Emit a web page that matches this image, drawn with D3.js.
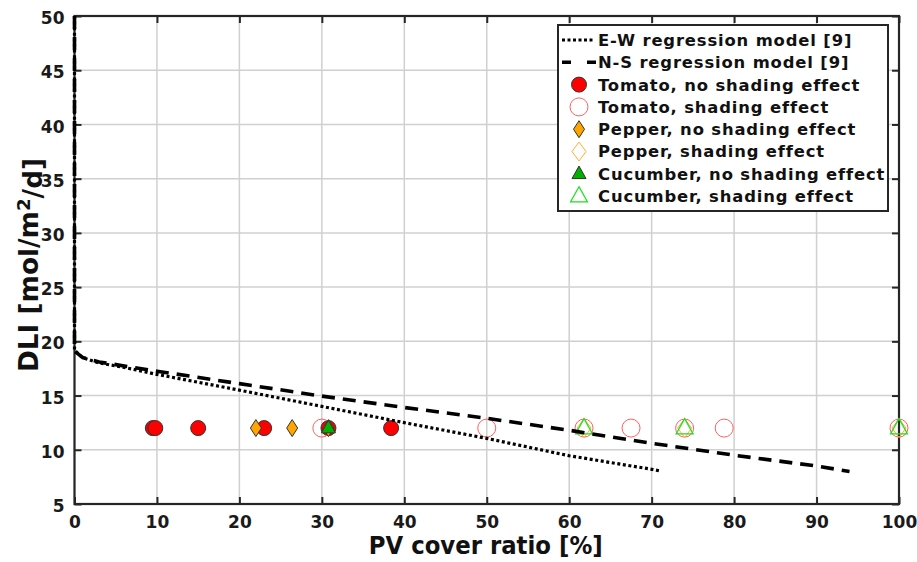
<!DOCTYPE html>
<html><head><meta charset="utf-8">
<script src="https://cdn.jsdelivr.net/npm/d3@7"></script>
<style>body{margin:0;background:#fff;} text{font-family:"DejaVu Sans",Verdana,sans-serif;font-weight:bold;}</style>
</head><body><svg id="c" width="917" height="562"></svg>
<script>
// ---- data ----
const xTicks = [0,10,20,30,40,50,60,70,80,90,100];
const yTicks = [5,10,15,20,25,30,35,40,45,50];
const ewModel = [[0,50],[0,19.2],[0.5,18.8],[1,18.5],[3,18.0],[6,17.6],[10,16.95],[20,15.5],[30,14.0],[40,12.5],[50,11.05],[60,9.45],[70,8.2],[71,8.05]];
const nsModel = [[0,50],[0,19.1],[1,18.5],[3,18.1],[10,17.25],[20,16.1],[30,14.95],[40,13.9],[50,12.9],[60,11.8],[70,10.6],[80,9.5],[90,8.5],[94,8.0]];
const tomatoNo = [[9.5,12],[9.8,12],[15,12],[23,12],[30.8,12],[38.4,12]];
const tomatoSh = [[30,12],[50,12],[61.8,12],[67.5,12],[74,12],[78.8,12],[100,12]];
const pepperNo = [[22,12],[26.4,12],[30.8,12]];
const pepperSh = [[61.8,12],[74,12],[100,12]];
const cucumberNo = [[30.8,12]];
const cucumberSh = [[61.8,12],[74,12],[100,12]];
const legendLabels = ["E-W regression model [9]","N-S regression model [9]","Tomato, no shading effect","Tomato, shading effect","Pepper, no shading effect","Pepper, shading effect","Cucumber, no shading effect","Cucumber, shading effect"];

// ---- chart ----
const svg = d3.select("#c");
const L=74.5, R=899, T=16, B=504;
const x = d3.scaleLinear().domain([0,100]).range([L,R]);
const y = d3.scaleLinear().domain([5,50]).range([B,T]);
const axisCol="#262626";

// grid
const g = svg.append("g");
g.selectAll(".gx").data(xTicks).join("line").attr("x1",d=>x(d)).attr("x2",d=>x(d)).attr("y1",T).attr("y2",B).attr("stroke","#d0d0d0").attr("stroke-width",1.5);
g.selectAll(".gy").data(yTicks).join("line").attr("y1",d=>y(d)).attr("y2",d=>y(d)).attr("x1",L).attr("x2",R).attr("stroke","#d0d0d0").attr("stroke-width",1.5);

// axes with inward ticks
const tl=7;
const ax = svg.append("g");
ax.append("g").attr("transform",`translate(0,${B})`).call(d3.axisBottom(x).tickValues(xTicks).tickSizeInner(-tl).tickSizeOuter(0).tickPadding(12)).call(s=>{s.select(".domain").remove();});
ax.append("g").attr("transform",`translate(0,${T})`).call(d3.axisTop(x).tickValues(xTicks).tickSizeInner(-tl).tickSizeOuter(0).tickFormat("")).call(s=>s.select(".domain").remove());
const yax = ax.append("g").attr("transform",`translate(${L},0)`).call(d3.axisLeft(y).tickValues(yTicks).tickSizeInner(-tl).tickSizeOuter(0).tickPadding(10)).call(s=>s.select(".domain").remove());
ax.append("g").attr("transform",`translate(${R},0)`).call(d3.axisRight(y).tickValues(yTicks).tickSizeInner(-tl).tickSizeOuter(0).tickFormat("")).call(s=>s.select(".domain").remove());
ax.selectAll(".tick line").attr("stroke",axisCol).attr("stroke-width",2);
ax.selectAll(".tick text").attr("fill","#1a1a1a").style("font-size","17px").style("font-family","DejaVu Sans").style("font-weight","bold");
yax.selectAll(".tick text").attr("dy","0.45em");
svg.append("rect").attr("x",L).attr("y",T).attr("width",R-L).attr("height",B-T).attr("fill","none").attr("stroke",axisCol).attr("stroke-width",2.2);

// markers
const sym = (type,size)=>d3.symbol().type(type).size(size)();
const diamond = (w,h)=>`M0,${-h/2}L${w/2},0L0,${h/2}L${-w/2},0Z`;
const tri = (s)=>{const h=s*0.9;return `M0,${-h*0.62}L${s/2},${h*0.38}L${-s/2},${h*0.38}Z`;};
const specs = [
 {data:tomatoNo, path:sym(d3.symbolCircle,Math.PI*7.5*7.5), fill:"#ff0000", stroke:"#333", sw:1},
 {data:tomatoSh, path:sym(d3.symbolCircle,Math.PI*9*9), fill:"none", stroke:"#ff6060", sw:1},
 {data:pepperNo, path:diamond(11,17), fill:"#ffa500", stroke:"#333", sw:1},
 {data:pepperSh, path:diamond(14,19), fill:"none", stroke:"#ffb030", sw:1},
 {data:cucumberNo, path:tri(14), fill:"#00b000", stroke:"#333", sw:1},
 {data:cucumberSh, path:tri(17), fill:"none", stroke:"#22dd22", sw:1.2}
];
const mk = svg.append("g");
specs.forEach(s=>{
  mk.append("g").selectAll("path").data(s.data).join("path").attr("d",s.path)
    .attr("transform",d=>`translate(${x(d[0])},${y(d[1])})`)
    .attr("fill",s.fill).attr("stroke",s.stroke).attr("stroke-width",s.sw);
});

// regression lines
const line = d3.line().x(d=>x(d[0])).y(d=>y(d[1]));
svg.append("path").datum(ewModel).attr("d",line).attr("fill","none").attr("stroke","#000").attr("stroke-width",3.2).attr("stroke-dasharray","3,2.6");
svg.append("path").datum(nsModel).attr("d",line).attr("fill","none").attr("stroke","#000").attr("stroke-width",3.6).attr("stroke-dasharray","13,8");

// legend
const lg = svg.append("g");
lg.append("rect").attr("x",558).attr("y",25).attr("width",330).attr("height",186).attr("fill","#fff").attr("stroke",axisCol).attr("stroke-width",2);
const rowY = i=>40+i*22.3;
lg.selectAll("text").data(legendLabels).join("text").attr("x",598).attr("y",(d,i)=>rowY(i)).attr("dy","0.36em")
  .style("font-size","16.4px").style("letter-spacing","0.85px").attr("fill","#111").text(d=>d);
lg.append("line").attr("x1",562).attr("x2",595).attr("y1",rowY(0)).attr("y2",rowY(0)).attr("stroke","#000").attr("stroke-width",3).attr("stroke-dasharray","3,2.5");
lg.append("line").attr("x1",562).attr("x2",597).attr("y1",rowY(1)).attr("y2",rowY(1)).attr("stroke","#000").attr("stroke-width",3.4).attr("stroke-dasharray","9,16");
specs.forEach((s,i)=>{
  lg.append("path").attr("d",s.path).attr("transform",`translate(579,${rowY(i+2)})`).attr("fill",s.fill).attr("stroke",s.stroke).attr("stroke-width",s.sw);
});

// axis titles (condensed to match reference widths)
const xt = svg.append("text").attr("text-anchor","middle").style("font-size","24.5px").attr("fill","#111").text("PV cover ratio [%]");
const xs = 234 / xt.node().getComputedTextLength();
xt.attr("transform",`translate(${(L+R)/2 - 1},554) scale(${xs},1)`);
const yl = svg.append("text").attr("text-anchor","middle").style("font-size","26px").attr("fill","#111");
yl.append("tspan").text("DLI [mol/m");
yl.append("tspan").attr("dy","-0.45em").style("font-size","18px").text("2");
yl.append("tspan").attr("dy","0.45em").text("/d]");
const ys = 214 / yl.node().getComputedTextLength();
yl.attr("transform",`translate(38,265) rotate(-90) scale(${ys},1)`);
</script></body></html>
